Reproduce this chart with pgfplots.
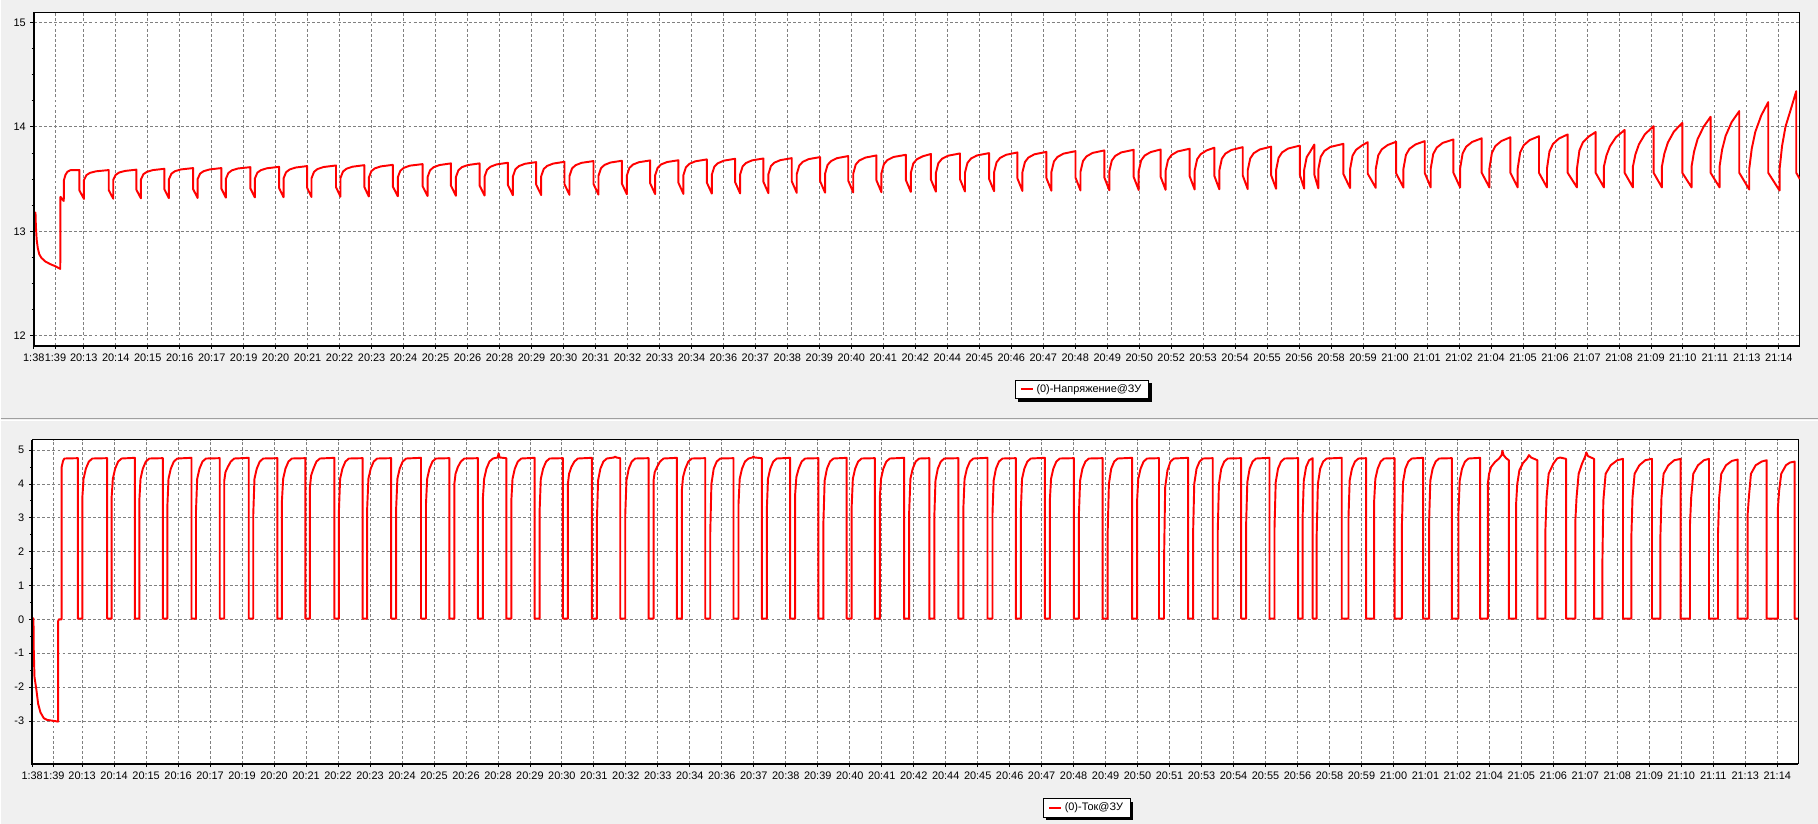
\documentclass[border=0pt]{standalone}
\usepackage{fontspec}
\setmainfont{Liberation Sans}
\usepackage{pgfplots}
\pgfplotsset{compat=1.18}
\usetikzlibrary{shadows}
\definecolor{bg}{HTML}{F0F0F0}
\definecolor{gridgray}{HTML}{808080}
\newcommand{\tickfont}{\fontsize{8.2pt}{9.5pt}\selectfont}

\pgfplotsset{
  panel/.style={
    scale only axis, width=1325.25pt,
    anchor=south west,
    xmin=33.3, xmax=1800.3,
    axis background/.style={fill=white},
    axis line style={black, line width=0.75pt},
    xtick={33.3,55,83.3,115.3,...,1780},
    minor x tick num=4,
    xtick pos=bottom, ytick pos=left,
    tick align=outside,
    major tick length=2.5pt, minor tick length=1.6pt,
    tick style={black, line width=0.6pt},
    grid=major,
    major grid style={gridgray, line width=0.6pt, dash pattern=on 2.2pt off 1.6pt},
    every tick label/.append style={font=\tickfont},
    /pgf/number format/assume math mode=true,
    legend style={draw=black, line width=0.6pt, fill=white, font=\tickfont,
      anchor=center, inner xsep=3.5pt, inner ysep=1.2pt,
      general shadow={shadow xshift=2.2pt, shadow yshift=-2.2pt, fill=black}},
    % basic-layer line so that the legend shadow does not reach the sample
    legend image code/.code={%
      \pgfsetlinewidth{1.5pt}\pgfsetstrokecolor{red}%
      \pgfpathmoveto{\pgfpoint{0pt}{0pt}}\pgfpathlineto{\pgfpoint{9pt}{0pt}}%
      \pgfusepath{stroke}},
  },
  sig/.style={red, line width=1.45pt, line join=round, no marks},
}

\begin{document}
\begin{tikzpicture}
\fill[bg] (0pt,0pt) rectangle (1363.5pt,618pt);
\draw[gray!75, line width=0.75pt] (0pt,303.6pt) -- (1363.5pt,303.6pt);
\draw[white, line width=0.75pt] (0pt,302.8pt) -- (1363.5pt,302.8pt);

% voltage panel
\begin{axis}[panel, name=top,
  at={(24.975pt,358.725pt)}, height=250.05pt,
  ymin=11.907, ymax=15.096,
  ytick={12,13,14,15}, minor y tick num=3,
  xticklabels={1:38,1:39,20:13,20:14,20:15,20:16,20:17,20:19,20:20,20:21,20:22,20:23,20:24,20:25,20:26,20:28,20:29,20:30,20:31,20:32,20:33,20:34,20:36,20:37,20:38,20:39,20:40,20:41,20:42,20:44,20:45,20:46,20:47,20:48,20:49,20:50,20:52,20:53,20:54,20:55,20:56,20:58,20:59,21:00,21:01,21:02,21:04,21:05,21:06,21:07,21:08,21:09,21:10,21:11,21:13,21:14},
  legend style={at={(axis description cs:0.5935,-0.132)}},
]
\addplot[sig] coordinates {
(33.3,13.18) (35,13.18) (35.4,13.05) (36.2,12.92) (37.3,12.84) (38.8,12.78) (41,12.745) (45,12.71) (50,12.685) (55,12.665) (59.8,12.64)
(60,13.33) (61.5,13.31) (63.3,13.29) (63.5,13.49) (65,13.54) (67,13.57) (70,13.585) (79,13.586)
(79,13.390) (83.5,13.310) (83.5,13.490) (86,13.538) (89.5,13.559) (95.5,13.574) (108.3,13.586)
(108.3,13.394) (112.8,13.312) (112.8,13.492) (115.3,13.541) (118.8,13.563) (124.8,13.578) (136,13.590)
(136,13.397) (140.5,13.315) (140.5,13.495) (143,13.547) (146.5,13.569) (152.5,13.586) (164,13.598)
(164,13.401) (168.5,13.317) (168.5,13.497) (171,13.551) (174.5,13.575) (180.5,13.592) (192.7,13.605)
(192.7,13.404) (197.2,13.319) (197.2,13.499) (199.7,13.552) (203.2,13.575) (209.2,13.592) (221,13.605)
(221,13.408) (225.5,13.322) (225.5,13.502) (228,13.558) (231.5,13.583) (237.5,13.601) (250,13.614)
(250,13.411) (254.5,13.324) (254.5,13.504) (257,13.561) (260.5,13.585) (266.5,13.603) (278.7,13.617)
(278.7,13.415) (283.2,13.326) (283.2,13.506) (285.7,13.565) (289.2,13.591) (295.2,13.610) (306.7,13.624)
(306.7,13.418) (311.2,13.328) (311.2,13.508) (313.7,13.569) (317.2,13.596) (323.2,13.615) (335.7,13.630)
(335.7,13.422) (340.2,13.331) (340.2,13.511) (342.7,13.572) (346.2,13.599) (352.2,13.618) (364,13.633)
(364,13.425) (368.5,13.333) (368.5,13.513) (371,13.575) (374.5,13.602) (380.5,13.621) (392.5,13.636)
(392.5,13.429) (397.5,13.335) (397.5,13.515) (400,13.579) (403.5,13.607) (409.5,13.628) (422.3,13.643)
(422.3,13.432) (427.3,13.338) (427.3,13.518) (429.8,13.584) (433.3,13.613) (439.3,13.634) (450.7,13.650)
(450.7,13.436) (455.7,13.340) (455.7,13.520) (458.2,13.585) (461.7,13.614) (467.7,13.634) (479.3,13.650)
(479.3,13.439) (484.3,13.342) (484.3,13.522) (486.8,13.589) (490.3,13.618) (496.3,13.640) (507.7,13.656)
(507.7,13.443) (512.7,13.345) (512.7,13.525) (515.2,13.594) (518.7,13.624) (524.7,13.646) (536,13.662)
(536,13.446) (541,13.347) (541,13.527) (543.5,13.596) (547,13.626) (553,13.648) (564.3,13.665)
(564.3,13.450) (569.3,13.349) (569.3,13.529) (571.8,13.601) (575.3,13.632) (581.3,13.655) (593.3,13.672)
(593.3,13.453) (598.3,13.351) (598.3,13.531) (600.8,13.603) (604.3,13.635) (610.3,13.658) (621.7,13.675)
(621.7,13.457) (626.7,13.354) (626.7,13.534) (629.2,13.606) (632.7,13.638) (638.7,13.661) (650,13.678)
(650,13.460) (655,13.356) (655,13.536) (657.5,13.608) (661,13.640) (667,13.663) (678.3,13.680)
(678.3,13.464) (683.3,13.358) (683.3,13.538) (685.8,13.613) (689.3,13.646) (695.3,13.670) (706.7,13.688)
(706.7,13.467) (711.7,13.361) (711.7,13.541) (714.2,13.618) (717.7,13.651) (723.7,13.676) (735,13.694)
(735,13.471) (740,13.363) (740,13.543) (742.5,13.620) (746,13.654) (752,13.679) (763.3,13.697)
(763.3,13.474) (768.3,13.365) (768.3,13.545) (770.8,13.623) (774.3,13.657) (780.3,13.681) (791.7,13.700)
(791.7,13.478) (796.7,13.368) (796.7,13.548) (799.2,13.629) (802.7,13.665) (808.7,13.691) (820,13.710)
(820,13.481) (825,13.370) (825,13.550) (827.5,13.635) (831,13.672) (837,13.700) (848.2,13.720)
(848.2,13.485) (853.2,13.372) (853.2,13.552) (855.7,13.639) (859.2,13.677) (865.2,13.705) (876.4,13.726)
(876.4,13.488) (881.4,13.374) (881.4,13.554) (883.9,13.643) (887.4,13.682) (893.4,13.711) (905.8,13.732)
(905.8,13.492) (910.8,13.377) (910.8,13.557) (913.3,13.649) (916.8,13.689) (922.8,13.718) (930.9,13.740)
(930.9,13.495) (935.9,13.379) (935.9,13.559) (938.4,13.652) (941.9,13.693) (947.9,13.723) (960,13.745)
(960,13.499) (965,13.381) (965,13.561) (967.5,13.655) (971,13.696) (977,13.726) (989.1,13.748)
(989.1,13.502) (994.1,13.384) (994.1,13.564) (996.6,13.660) (1000.1,13.702) (1006.1,13.732) (1017.5,13.755)
(1017.5,13.506) (1022.5,13.386) (1022.5,13.566) (1025,13.663) (1028.5,13.706) (1034.5,13.737) (1046.5,13.760)
(1046.5,13.509) (1051.5,13.388) (1051.5,13.568) (1054,13.668) (1057.5,13.711) (1063.5,13.743) (1075.6,13.767)
(1075.6,13.513) (1080.6,13.391) (1080.6,13.571) (1083.1,13.673) (1086.6,13.717) (1092.6,13.750) (1104.4,13.774)
(1104.4,13.516) (1109.4,13.393) (1109.4,13.573) (1111.9,13.677) (1115.4,13.722) (1121.4,13.755) (1133.8,13.780)
(1133.8,13.520) (1138.8,13.395) (1138.8,13.575) (1141.3,13.679) (1144.8,13.725) (1150.8,13.758) (1160.7,13.783)
(1160.7,13.523) (1165.7,13.397) (1165.7,13.577) (1168.2,13.684) (1171.7,13.730) (1177.7,13.764) (1189.8,13.790)
(1189.8,13.527) (1194.8,13.400) (1194.8,13.580) (1197.3,13.690) (1200.8,13.738) (1206.8,13.774) (1214.5,13.800)
(1214.5,13.530) (1219.5,13.402) (1219.5,13.582) (1222,13.694) (1225.5,13.743) (1231.5,13.778) (1242.9,13.805)
(1242.9,13.534) (1247.9,13.404) (1247.9,13.584) (1250.4,13.697) (1253.9,13.747) (1259.9,13.783) (1271.3,13.810)
(1271.3,13.537) (1276.3,13.407) (1276.3,13.587) (1278.8,13.704) (1282.3,13.755) (1288.3,13.792) (1300,13.820)
(1300,13.541) (1304.4,13.409) (1304.4,13.589) (1306.9,13.710) (1310.4,13.763) (1314.5,13.830)
(1314.5,13.544) (1318.5,13.411) (1318.5,13.591) (1321,13.714) (1324.5,13.768) (1330.5,13.807) (1343.6,13.837)
(1343.6,13.548) (1350.3,13.414) (1350.3,13.594) (1352.8,13.724) (1356.3,13.780) (1362.3,13.822) (1368,13.853)
(1368,13.551) (1376,13.416) (1376,13.596) (1378.5,13.727) (1382,13.784) (1388,13.826) (1396.4,13.857)
(1396.4,13.555) (1403.7,13.418) (1403.7,13.598) (1406.2,13.731) (1409.7,13.789) (1415.7,13.831) (1425,13.863)
(1425,13.558) (1431,13.420) (1431,13.600) (1433.5,13.740) (1437,13.801) (1443,13.846) (1453.7,13.879)
(1453.7,13.56) (1460.4,13.42) (1460.4,13.60) (1462.9,13.745) (1466.4,13.809) (1472.4,13.855) (1482,13.890)
(1482,13.56) (1489.7,13.42) (1489.7,13.60) (1492.2,13.750) (1495.7,13.816) (1501.7,13.864) (1510.7,13.900)
(1510.7,13.56) (1518,13.42) (1518,13.60) (1520.5,13.755) (1524,13.823) (1530,13.873) (1539.3,13.910)
(1539.3,13.56) (1547.3,13.42) (1547.3,13.60) (1549.8,13.764) (1553.3,13.835) (1559.3,13.888) (1568,13.927)
(1568,13.56) (1577.3,13.42) (1577.3,13.60) (1579.8,13.775) (1583.3,13.852) (1589.3,13.908) (1596,13.950)
(1596,13.56) (1604.3,13.42) (1604.3,13.62) (1606.8,13.725) (1610.3,13.813) (1616.3,13.900) (1625,13.970)
(1625,13.56) (1633.3,13.42) (1633.3,13.62) (1635.8,13.736) (1639.3,13.832) (1645.3,13.929) (1654,14.006)
(1654,13.56) (1662.3,13.42) (1662.3,13.62) (1664.8,13.745) (1668.3,13.850) (1674.3,13.954) (1682.7,14.038)
(1682.7,13.56) (1692,13.42) (1692,13.62) (1694.5,13.763) (1698,13.882) (1704,14.000) (1711,14.096)
(1711,13.56) (1720,13.42) (1720,13.62) (1722.5,13.779) (1726,13.912) (1732,14.044) (1739.7,14.150)
(1739.7,13.56) (1749.7,13.40) (1749.7,13.60) (1752.2,13.791) (1755.7,13.950) (1761.7,14.109) (1768.7,14.236)
(1768.7,13.56) (1780,13.39) (1780,13.59) (1782.5,13.815) (1786,14.003) (1792,14.19) (1796.7,14.341)
(1796.7,13.56) (1800.3,13.50)
};
\addlegendentry{(0)-Напряжение@ЗУ}
\end{axis}
\draw[black, line width=1.5pt] (top.north west) -- (top.south west) -- (top.south east);

% current panel
\begin{axis}[panel, name=bot,
  at={(23.775pt,44.775pt)}, height=243.225pt,
  ymin=-4.269, ymax=5.304,
  ytick={-3,...,5}, minor y tick num=1,
  xticklabels={1:38,1:39,20:13,20:14,20:15,20:16,20:17,20:19,20:20,20:21,20:22,20:23,20:24,20:25,20:26,20:28,20:29,20:30,20:31,20:32,20:33,20:34,20:36,20:37,20:38,20:39,20:40,20:41,20:42,20:44,20:45,20:46,20:47,20:48,20:49,20:50,20:51,20:53,20:54,20:55,20:56,20:58,20:59,21:00,21:01,21:02,21:04,21:05,21:06,21:07,21:08,21:09,21:10,21:11,21:13,21:14},
  legend style={at={(axis description cs:0.5972,-0.1357)}},
]
\addplot[sig] coordinates {
(33.3,0.03) (34.6,0.03) (34.8,-0.8) (35.6,-1.7) (37.6,-2.1) (39.3,-2.5) (41.6,-2.75) (44.9,-2.92) (48.3,-2.97) (55,-3.0) (59.2,-3.02)
(59.3,-0.05) (60,0.0) (62.8,0.0) (62.8,4.5) (64.2,4.68) (65.5,4.75) (79,4.76)
(79,0.02) (83.5,0.02) (83.5,3.6) (84.7,4.15) (87,4.45) (90,4.66) (93.5,4.75) (108.3,4.76)
(108.3,0.02) (112.8,0.02) (112.8,3.6) (114,4.15) (116.3,4.45) (119.3,4.66) (122.8,4.75) (136,4.77)
(136,0.02) (140.5,0.02) (140.5,3.5) (141.7,4.15) (144,4.45) (147,4.66) (150.5,4.75) (164,4.76)
(164,0.02) (168.5,0.02) (168.5,3.3) (169.7,4.15) (172,4.45) (175,4.66) (178.5,4.75) (192.7,4.77)
(192.7,0.02) (197.2,0.02) (197.2,3.2) (198.4,4.15) (200.7,4.45) (203.7,4.66) (207.2,4.75) (221,4.76)
(221,0.02) (225.5,0.02) (225.5,4.1) (226.7,4.35) (229,4.5) (232,4.66) (235.5,4.75) (250,4.77)
(250,0.02) (254.5,0.02) (254.5,3.1) (255.7,4.15) (258,4.45) (261,4.66) (264.5,4.75) (278.7,4.76)
(278.7,0.02) (283.2,0.02) (283.2,3.5) (284.4,4.15) (286.7,4.45) (289.7,4.66) (293.2,4.75) (306.7,4.76)
(306.7,0.02) (311.2,0.02) (311.2,3.9) (312.4,4.25) (314.7,4.45) (317.7,4.66) (321.2,4.75) (335.7,4.77)
(335.7,0.02) (340.2,0.02) (340.2,3.2) (341.4,4.15) (343.7,4.45) (346.7,4.66) (350.2,4.75) (364,4.76)
(364,0.02) (368.5,0.02) (368.5,3.3) (369.7,4.15) (372,4.45) (375,4.66) (378.5,4.75) (392.5,4.76)
(392.5,0.02) (397.5,0.02) (397.5,3.3) (398.7,4.15) (401,4.45) (404,4.66) (407.5,4.75) (422.3,4.77)
(422.3,0.02) (427.3,0.02) (427.3,3.4) (428.5,4.15) (430.8,4.45) (433.8,4.66) (437.3,4.75) (450.7,4.76)
(450.7,0.02) (455.7,0.02) (455.7,4.0) (456.9,4.3) (459.2,4.5) (462.2,4.66) (465.7,4.75) (479.3,4.76)
(479.3,0.02) (484.3,0.02) (484.3,3.6) (485.5,4.15) (487.8,4.45) (490.8,4.66) (494.3,4.75) (499,4.78) (500,4.9) (501,4.78) (507.7,4.76)
(507.7,0.02) (512.7,0.02) (512.7,3.5) (513.9,4.15) (516.2,4.45) (519.2,4.66) (522.7,4.75) (536,4.77)
(536,0.02) (541,0.02) (541,3.2) (542.2,4.15) (544.5,4.45) (547.5,4.66) (551,4.75) (564.3,4.76)
(564.3,0.02) (569.3,0.02) (569.3,4.0) (570.5,4.3) (572.8,4.5) (575.8,4.66) (579.3,4.75) (593.3,4.77)
(593.3,0.02) (598.3,0.02) (598.3,2.9) (599.5,4.1) (601.8,4.45) (604.8,4.66) (608.3,4.75) (615.5,4.78) (616.6,4.81) (617.7,4.78) (621.7,4.76)
(621.7,0.02) (626.7,0.02) (626.7,3.1) (627.9,4.1) (630.2,4.45) (633.2,4.66) (636.7,4.75) (650,4.76)
(650,0.02) (655,0.02) (655,4.1) (656.2,4.35) (658.5,4.5) (661.5,4.66) (665,4.75) (678.3,4.77)
(678.3,0.02) (683.3,0.02) (683.3,3.8) (684.5,4.2) (686.8,4.45) (689.8,4.66) (693.3,4.75) (706.7,4.76)
(706.7,0.02) (711.7,0.02) (711.7,2.5) (712.9,4.0) (715.2,4.45) (718.2,4.66) (721.7,4.75) (735,4.76)
(735,0.02) (740,0.02) (740,3.4) (741.2,4.15) (743.5,4.45) (746.5,4.66) (750,4.75) (754,4.78) (755,4.81) (756,4.78) (763.3,4.76)
(763.3,0.02) (768.3,0.02) (768.3,3.2) (769.5,4.15) (771.8,4.45) (774.8,4.66) (778.3,4.75) (791.7,4.77)
(791.7,0.02) (796.7,0.02) (796.7,3.7) (797.9,4.2) (800.2,4.45) (803.2,4.66) (806.7,4.75) (820,4.76)
(820,0.02) (825,0.02) (825,2.9) (826.2,4.1) (828.5,4.45) (831.5,4.66) (835,4.75) (848.2,4.77)
(848.2,0.02) (853.2,0.02) (853.2,3.3) (854.4,4.15) (856.7,4.45) (859.7,4.66) (863.2,4.75) (876.4,4.76)
(876.4,0.02) (881.4,0.02) (881.4,3.6) (882.6,4.15) (884.9,4.45) (887.9,4.66) (891.4,4.75) (905.8,4.77)
(905.8,0.02) (910.8,0.02) (910.8,3.2) (912,4.15) (914.3,4.45) (917.3,4.66) (920.8,4.75) (930.9,4.76)
(930.9,0.02) (935.9,0.02) (935.9,3.0) (937.1,4.1) (939.4,4.45) (942.4,4.66) (945.9,4.75) (960,4.76)
(960,0.02) (965,0.02) (965,3.3) (966.2,4.15) (968.5,4.45) (971.5,4.66) (975,4.75) (989.1,4.77)
(989.1,0.02) (994.1,0.02) (994.1,3.1) (995.3,4.1) (997.6,4.45) (1000.6,4.66) (1004.1,4.75) (1017.5,4.76)
(1017.5,0.02) (1022.5,0.02) (1022.5,3.2) (1023.7,4.15) (1026,4.45) (1029,4.66) (1032.5,4.75) (1046.5,4.77)
(1046.5,0.02) (1051.5,0.02) (1051.5,3.5) (1052.7,4.15) (1055,4.45) (1058,4.66) (1061.5,4.75) (1075.6,4.76)
(1075.6,0.02) (1080.6,0.02) (1080.6,3.1) (1081.8,4.1) (1084.1,4.45) (1087.1,4.66) (1090.6,4.75) (1104.4,4.76)
(1104.4,0.02) (1109.4,0.02) (1109.4,2.6) (1110.6,4.0) (1112.9,4.45) (1115.9,4.66) (1119.4,4.75) (1133.8,4.77)
(1133.8,0.02) (1138.8,0.02) (1138.8,3.5) (1140,4.15) (1142.3,4.45) (1145.3,4.66) (1148.8,4.75) (1160.7,4.76)
(1160.7,0.02) (1165.7,0.02) (1165.7,1.6) (1166.9,3.9) (1169.2,4.4) (1172.2,4.66) (1175.7,4.75) (1189.8,4.77)
(1189.8,0.02) (1194.8,0.02) (1194.8,2.5) (1196,4.0) (1198.3,4.45) (1201.3,4.66) (1204.8,4.75) (1214.5,4.76)
(1214.5,0.02) (1219.5,0.02) (1219.5,2.6) (1220.7,4.0) (1223,4.45) (1226,4.66) (1229.5,4.75) (1242.9,4.76)
(1242.9,0.02) (1247.9,0.02) (1247.9,2.8) (1249.1,4.05) (1251.4,4.45) (1254.4,4.66) (1257.9,4.75) (1271.3,4.77)
(1271.3,0.02) (1276.3,0.02) (1276.3,2.7) (1277.5,4.05) (1279.8,4.45) (1282.8,4.66) (1286.3,4.75) (1300,4.76)
(1300,0.02) (1304.4,0.02) (1304.4,3.0) (1305.6,4.1) (1307.9,4.5) (1310.9,4.7) (1314.5,4.76)
(1314.5,0.02) (1318.5,0.02) (1318.5,2.5) (1319.7,4.0) (1322,4.45) (1325,4.66) (1328.5,4.75) (1343.6,4.77)
(1343.6,0.02) (1350.3,0.02) (1350.3,3.0) (1351.5,4.1) (1353.8,4.45) (1356.8,4.66) (1360.3,4.75) (1368,4.76)
(1368,0.02) (1376,0.02) (1376,3.5) (1377.2,4.15) (1379.5,4.45) (1382.5,4.66) (1386,4.75) (1396.4,4.76)
(1396.4,0.02) (1403.7,0.02) (1403.7,2.7) (1404.9,4.05) (1407.2,4.45) (1410.2,4.66) (1413.7,4.75) (1425,4.77)
(1425,0.02) (1431,0.02) (1431,2.9) (1432.2,4.1) (1434.5,4.45) (1437.5,4.66) (1441,4.75) (1453.7,4.76)
(1453.7,0.02) (1460.4,0.02) (1460.4,3.2) (1461.6,4.1) (1463.9,4.45) (1466.9,4.66) (1470.4,4.75) (1482,4.77)
(1482,0.02) (1489.7,0.02) (1489.7,4.0) (1491,4.3) (1493,4.5) (1497,4.65) (1501,4.75) (1503.5,4.85) (1504.3,4.98) (1505.5,4.85) (1508,4.76) (1510.7,4.7)
(1510.7,0.02) (1518,0.02) (1518,3.4) (1519.2,4.0) (1521.3,4.4) (1525,4.62) (1529,4.75) (1530.9,4.85) (1533,4.78) (1539.3,4.7)
(1539.3,0.02) (1547.3,0.02) (1547.3,2.6) (1548.5,3.6) (1550.6,4.3) (1555.3,4.6) (1559,4.75) (1562,4.78) (1568,4.74)
(1568,0.02) (1577.3,0.02) (1577.3,2.9) (1578.5,3.6) (1580.6,4.3) (1584,4.6) (1587,4.8) (1588.3,4.93) (1590,4.82) (1596,4.74)
(1596,0.02) (1604.3,0.02) (1604.3,1.55) (1605.3,3.5) (1607.6,4.3) (1612.6,4.55) (1619.3,4.7) (1625,4.74)
(1625,0.02) (1633.3,0.02) (1633.3,2.4) (1634.5,3.6) (1636.6,4.3) (1641.3,4.55) (1647.3,4.7) (1654,4.74)
(1654,0.02) (1662.3,0.02) (1662.3,2.35) (1663.5,3.6) (1665.6,4.3) (1670.3,4.55) (1676.3,4.7) (1682.7,4.74)
(1682.7,0.02) (1692,0.02) (1692,2.8) (1693.2,3.6) (1695.3,4.3) (1700,4.55) (1706,4.7) (1711,4.74)
(1711,0.02) (1720,0.02) (1720,2.5) (1721.2,3.6) (1723.3,4.3) (1728,4.55) (1734,4.68) (1739.7,4.72)
(1739.7,0.02) (1749.7,0.02) (1749.7,3.1) (1750.9,3.6) (1753,4.3) (1757.7,4.55) (1763.7,4.66) (1768.7,4.70)
(1768.7,0.02) (1780,0.02) (1780,3.3) (1781.2,3.8) (1783.3,4.3) (1788,4.55) (1792,4.63) (1796.7,4.66)
(1796.7,0.02) (1800.3,0.02)
};
\addlegendentry{(0)-Ток@ЗУ}
\end{axis}
\draw[black, line width=1.5pt] (bot.north west) -- (bot.south west) -- (bot.south east);
\end{tikzpicture}
\end{document}
